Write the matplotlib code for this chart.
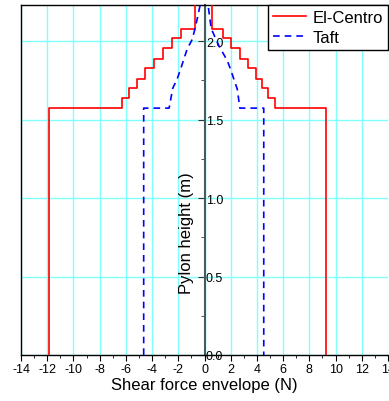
import matplotlib.pyplot as plt
from matplotlib.ticker import MultipleLocator

plt.rcParams['font.family'] = ['Liberation Sans', 'DejaVu Sans']
plt.rcParams['axes.unicode_minus'] = False

# El-Centro envelope: step edges along the pylon and the force in each segment
ec_edges = [0, 1.573, 1.635, 1.698, 1.760, 1.826, 1.889, 1.953, 2.017, 2.080, 2.30]
ec_left = [-11.88, -6.32, -5.79, -5.15, -4.51, -3.88, -3.19, -2.47, -1.76, -0.69]
ec_right = [9.26, 5.36, 4.87, 4.42, 3.90, 3.31, 2.70, 2.04, 1.43, 0.59]

# Taft envelope: points along the pylon
taft_left_y = [0, 1.573, 1.573, 1.700, 1.758, 1.820, 1.950, 2.010, 2.090, 2.250]
taft_left_x = [-4.64, -4.64, -2.70, -2.42, -2.09, -1.83, -1.32, -0.94, -0.69, -0.28]
taft_right_y = [2.250, 2.080, 1.970, 1.875, 1.820, 1.758, 1.694, 1.573, 1.573, 0]
taft_right_x = [0.24, 0.51, 1.10, 1.74, 1.99, 2.24, 2.50, 2.70, 4.52, 4.52]


def step_path(edges, vals):
    xs, ys = [], []
    for i, v in enumerate(vals):
        xs += [v, v]
        ys += [edges[i], edges[i + 1]]
    return xs, ys


lx, ly = step_path(ec_edges, ec_left)
rx, ry = step_path(ec_edges, ec_right)
ec_x = lx + rx[::-1]
ec_y = ly + ry[::-1]

fig = plt.figure(figsize=(3.89, 4.02), dpi=100)
ax = fig.add_axes([21 / 389, 46 / 402, 367 / 389, 350 / 402])

ax.plot(ec_x, ec_y, color='red', lw=1.2, label='El-Centro', zorder=3)
ax.plot(taft_left_x + taft_right_x, taft_left_y + taft_right_y, color='blue',
        lw=1.2, ls=(0, (4, 3)), label='Taft', zorder=3)

ax.set_xlim(-14, 14)
ax.set_ylim(0, 2.23)
ax.xaxis.set_major_locator(MultipleLocator(2))
ax.xaxis.set_minor_locator(MultipleLocator(1))
ax.yaxis.set_major_locator(MultipleLocator(0.5))
ax.yaxis.set_minor_locator(MultipleLocator(0.25))
ax.grid(True, which='major', color='#80ffff', lw=1, zorder=0)
ax.set_axisbelow(True)

ax.spines['right'].set_position(('data', 0))
ax.spines['right'].set_color('#4a5a5a')
ax.spines['right'].set_linewidth(1.5)
ax.spines['right'].set_zorder(2)
for s in ['left', 'bottom', 'top']:
    ax.spines[s].set_color('black')
    ax.spines[s].set_linewidth(1)

ax.yaxis.tick_right()
ax.tick_params(axis='y', which='major', direction='in', length=5,
               labelsize=9, pad=1, color='#333333')
ax.tick_params(axis='y', which='minor', direction='in', length=3, color='#333333')
ax.set_yticks([0, 0.5, 1.0, 1.5, 2.0], ['0.0', '0.5', '1.0', '1.5', '2.0'])
ax.tick_params(axis='x', which='major', direction='out', length=4, labelsize=9, pad=2)
ax.tick_params(axis='x', which='minor', direction='out', length=2)

ax.set_xlabel('Shear force envelope (N)', fontsize=12, labelpad=1)
ax.text(0.451, 0.351, 'Pylon height (m)', rotation=90, fontsize=12,
        ha='center', va='center', transform=ax.transAxes)

leg = ax.legend(loc='upper right', bbox_to_anchor=(1.0, 1.0), borderaxespad=0,
                fontsize=12, handlelength=2.0, handletextpad=0.4,
                labelspacing=0.3, borderpad=0.3, fancybox=False, framealpha=1)
leg.get_frame().set_edgecolor('black')
leg.get_frame().set_linewidth(1)

fig.savefig('out.png', dpi=100)
